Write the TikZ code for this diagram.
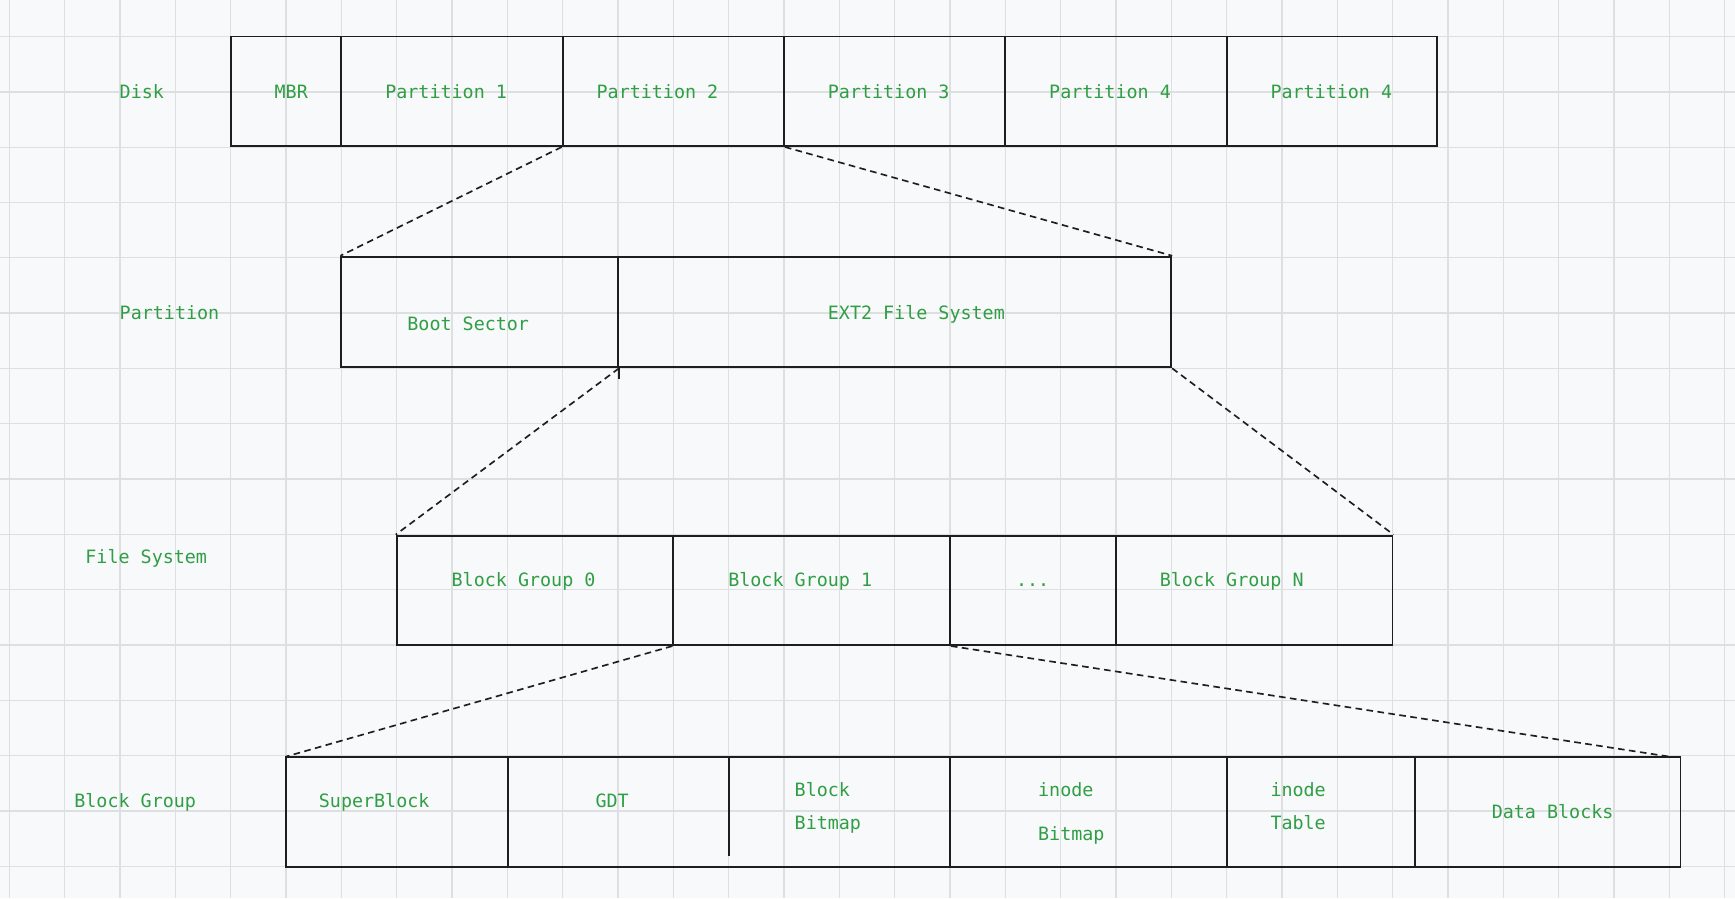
\documentclass[tikz,border=0pt]{standalone}
\usepackage{fontspec}
\setmonofont{DejaVu Sans Mono}
\definecolor{bgc}{HTML}{F8F9FA}
\definecolor{gridc}{HTML}{DEDFE0}
\definecolor{txtg}{HTML}{2F9E44}
\definecolor{linec}{HTML}{1E1E1E}
\begin{document}
\begin{tikzpicture}[x=1pt,y=-1pt,
  gridline/.style={draw=gridc,line width=1.2pt},
  cellbox/.style={draw=linec,line width=1.7pt,rectangle,inner sep=0pt,minimum height=99pt},
  cellnd/.style={rectangle,inner sep=0pt,minimum height=99pt},
  edge/.style={draw=linec,line width=1.7pt},
  conn/.style={draw=linec,line width=1.5pt,dash pattern=on 6pt off 4pt},
  lbl/.style={font=\ttfamily\fontsize{16.6}{20}\selectfont,text=txtg,anchor=base west,inner sep=0pt}]
\useasboundingbox (0,0) rectangle (1568,812);
\fill[bgc] (0,0) rectangle (1568,812);
\foreach \i in {0,...,31} \draw[gridline] (8.5+50*\i,0) -- (8.5+50*\i,812);
\foreach \j in {0,...,15} \draw[gridline] (0,33+50*\j) -- (1568,33+50*\j);

% Disk row
\node[cellbox,minimum width=100pt] (mbr) at (258.5,82.5) {};
\node[cellbox,minimum width=200pt] (p1) at (408.5,82.5) {};
\node[cellbox,minimum width=200pt] (p2) at (608.5,82.5) {};
\node[cellbox,minimum width=200pt] (p3) at (808.5,82.5) {};
\node[cellbox,minimum width=200pt] (p4) at (1008.5,82.5) {};
\node[cellbox,minimum width=190pt] (p5) at (1203.5,82.5) {};

% Partition row
\node[cellbox,minimum width=250pt,minimum height=100pt] (bs) at (433.5,282) {};
\node[cellbox,minimum width=500pt,minimum height=100pt] (ext) at (808.5,282) {};
\draw[edge] (bs.south east) -- ++(0,10);

% File system row
\node[cellbox,minimum width=250pt] (bg0) at (483.5,533.5) {};
\node[cellbox,minimum width=250pt] (bg1) at (733.5,533.5) {};
\node[cellbox,minimum width=150pt] (dots) at (933.5,533.5) {};
\node[cellbox,minimum width=250pt] (bgn) at (1133.5,533.5) {};

% Block group row
\node[cellnd,minimum width=200pt] (sb) at (358.5,733.5) {};
\node[cellnd,minimum width=200pt] (gdt) at (558.5,733.5) {};
\node[cellnd,minimum width=200pt] (bbm) at (758.5,733.5) {};
\node[cellnd,minimum width=250pt] (ibm) at (983.5,733.5) {};
\node[cellnd,minimum width=170pt] (itab) at (1193.5,733.5) {};
\node[cellnd,minimum width=240pt] (db) at (1398.5,733.5) {};
\draw[edge] (sb.north west) rectangle (db.south east);
\draw[edge] (sb.north east) -- (sb.south east);
\draw[edge] (gdt.north east) -- ([yshift=10pt]gdt.south east);
\draw[edge] (bbm.north east) -- (bbm.south east);
\draw[edge] (ibm.north east) -- (ibm.south east);
\draw[edge] (itab.north east) -- (itab.south east);
\coordinate (dbend) at ([xshift=-10pt]db.north east);

% Connectors
\draw[conn] (p2.south west) -- (bs.north west);
\draw[conn] (p2.south east) -- (ext.north east);
\draw[conn] (bs.south east) -- (bg0.north west);
\draw[conn] (ext.south east) -- (bgn.north east);
\draw[conn] (bg1.south west) -- (sb.north west);
\draw[conn] (bg1.south east) -- (dbend);

% Labels
\node[lbl] (ldisk) at (108,89) {Disk};
\node[lbl] (lpart) at (108,289) {Partition};
\node[lbl] (lfs) at (77,509) {File System};
\node[lbl] (lbg) at (67,730) {Block Group};

\node[lbl] (tmbr) at (248,89) {MBR};
\node[lbl] (tp1) at (348,89) {Partition 1};
\node[lbl] (tp2) at (539,89) {Partition 2};
\node[lbl] (tp3) at (748,89) {Partition 3};
\node[lbl] (tp4) at (948,89) {Partition 4};
\node[lbl] (tp5) at (1148,89) {Partition 4};

\node[lbl] (tbs) at (368,299) {Boot Sector};
\node[lbl] (text2) at (748,289) {EXT2 File System};

\node[lbl] (tbg0) at (408,530) {Block Group 0};
\node[lbl] (tbg1) at (658,530) {Block Group 1};
\node[lbl] (tdots) at (918,530) {...};
\node[lbl] (tbgn) at (1048,530) {Block Group N};

\node[lbl] (tsb) at (288,730) {SuperBlock};
\node[lbl] (tgdt) at (538,730) {GDT};
\node[lbl] (tbb1) at (718,720) {Block};
\node[lbl] (tbb2) at (718,750) {Bitmap};
\node[lbl] (tib1) at (938,720) {inode};
\node[lbl] (tib2) at (938,760) {Bitmap};
\node[lbl] (tit1) at (1148,720) {inode};
\node[lbl] (tit2) at (1148,750) {Table};
\node[lbl] (tdb) at (1348,740) {Data Blocks};
\end{tikzpicture}
\end{document}
